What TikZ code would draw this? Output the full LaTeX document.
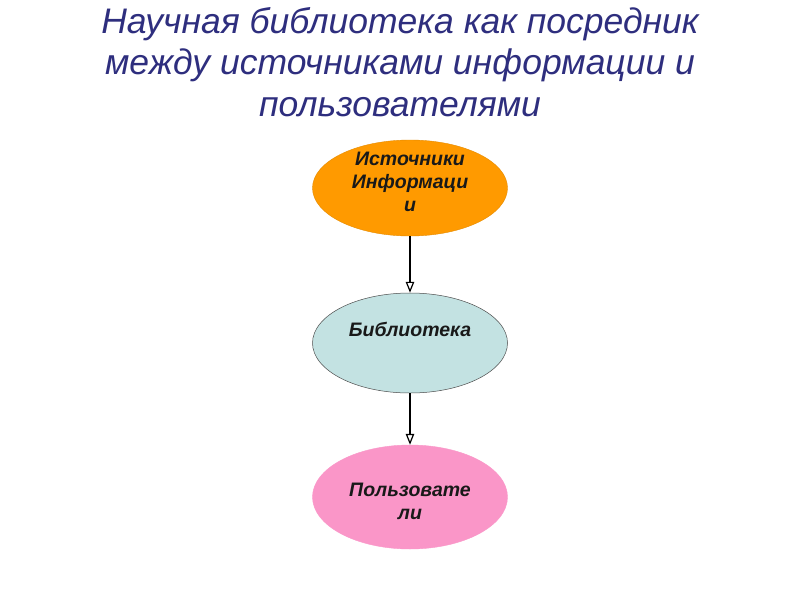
\documentclass[tikz,border=0pt]{standalone}
\usepackage{fontspec}
\setmainfont{Liberation Sans}
\usetikzlibrary{shapes.geometric,arrows.meta}
\definecolor{titleblue}{HTML}{2E2E7E}
\definecolor{orangefill}{HTML}{FF9A00}
\definecolor{bluefill}{HTML}{C3E2E2}
\definecolor{pinkfill}{HTML}{FA96C8}
\tikzset{
  oval/.style={ellipse, minimum width=195pt, minimum height=96pt, inner sep=0pt},
  ovaltext/.style={inner sep=0pt, align=center,
    font=\fontsize{19.5}{23}\selectfont\bfseries\itshape, text=black!90},
  link/.style={draw=black, line width=1.4pt, -{Triangle[open, length=11pt, width=8.5pt, line width=1.2pt]}},
  titletext/.style={align=center, text=titleblue, font=\fontsize{35.5}{41.5}\selectfont\itshape}
}
\begin{document}
\begin{tikzpicture}[x=1pt,y=-1pt]
\useasboundingbox[fill=white] (0,0) rectangle (800,600);
\node[titletext] (title) at (400,62) {Научная библиотека как посредник\\между источниками информации и\\пользователями};
\node[oval, fill=orangefill, draw=orangefill!90!black, line width=0.4pt] (src) at (410,188) {};
\node[oval, fill=bluefill, draw=black!70, line width=0.5pt, minimum height=100pt] (lib) at (410,343) {};
\node[oval, fill=pinkfill, draw=pinkfill, line width=0.4pt, minimum height=104pt] (usr) at (410,497) {};
\node[ovaltext] (srctext) at (410,182) {Источники\\Информаци\\и};
\node[ovaltext] (libtext) at (410,329) {Библиотека};
\node[ovaltext] (usrtext) at (410,501) {Пользовате\\ли};
\draw[link] (src) -- (lib);
\draw[link] (lib) -- (usr);
\end{tikzpicture}
\end{document}
